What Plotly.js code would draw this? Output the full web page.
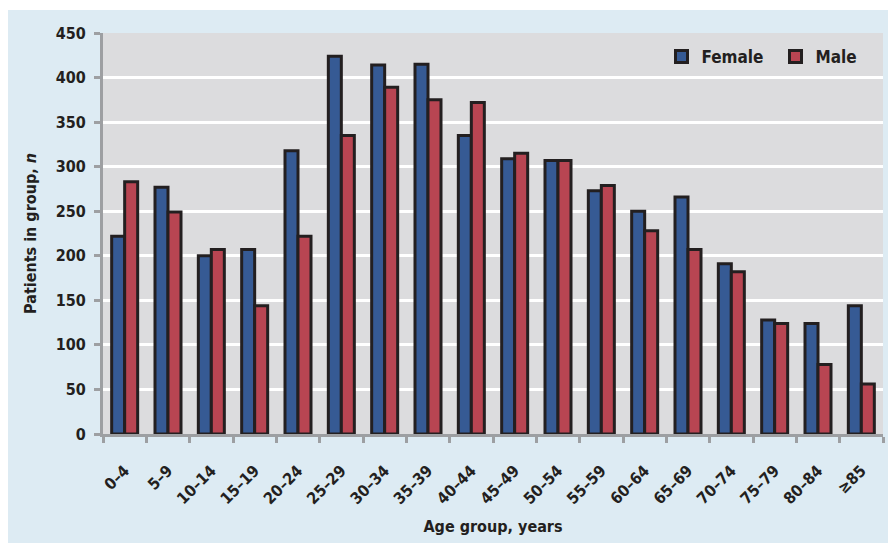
<!DOCTYPE html>
<html><head><meta charset="utf-8">
<script src="https://cdn.plot.ly/plotly-3.0.1.min.js"></script>
<style>
html,body{margin:0;padding:0;background:#ffffff;width:888px;height:543px;overflow:hidden;}
#chart{position:absolute;left:8px;top:10px;width:880px;height:533px;}
</style></head><body>
<div id="chart"></div>
<script>
var categories = ["0\u20134","5\u20139","10\u201314","15\u201319","20\u201324","25\u201329","30\u201334","35\u201339","40\u201344","45\u201349","50\u201354","55\u201359","60\u201364","65\u201369","70\u201374","75\u201379","80\u201384","\u226585"];
var female = [222,277,200,207,318,424,414,415,335,309,307,273,250,266,191,128,124,144];
var male   = [283,249,207,144,222,335,389,375,372,315,307,279,228,207,182,124,78,56];
var yTicks = [0,50,100,150,200,250,300,350,400,450];

var fontFam = "'DejaVu Sans Condensed', 'DejaVu Sans', sans-serif";
var traces = [
  {type:'bar', name:'Female', x:categories, y:female,
   marker:{color:'#365a94', line:{color:'#231f20', width:3}}},
  {type:'bar', name:'Male', x:categories, y:male,
   marker:{color:'#b84552', line:{color:'#231f20', width:3}}}
];
var layout = {
  width:880, height:533,
  margin:{l:95, r:5, t:23, b:109, autoexpand:false},
  paper_bgcolor:'#ddebf3', plot_bgcolor:'#dcdcde',
  font:{family:fontFam, color:'#231f20', size:14, weight:'bold'},
  barmode:'group', bargap:0.4, bargroupgap:0,
  showlegend:true,
  legend:{orientation:'h', x:0.716, y:0.985, xanchor:'left', yanchor:'top',
          bgcolor:'rgba(0,0,0,0)', font:{size:17, family:fontFam, weight:'bold'},
          entrywidth:69, entrywidthmode:'pixels', traceorder:'normal'},
  xaxis:{
    tickangle:-45, tickson:'boundaries', ticks:'outside', ticklen:6, tickwidth:3, tickcolor:'#9d9fa2',
    showline:true, linecolor:'#9d9fa2', linewidth:3, ticklabelstandoff:18,
    tickfont:{size:16, family:fontFam, weight:'bold'},
    title:{text:'Age group, years', font:{size:16, family:fontFam, weight:'bold'}, standoff:14},
    fixedrange:true
  },
  yaxis:{
    range:[0,450], tickvals:yTicks, ticktext:yTicks.map(String),
    ticks:'outside', ticklen:6, tickwidth:3, tickcolor:'#9d9fa2',
    showline:true, linecolor:'#9d9fa2', linewidth:3, ticklabelstandoff:5,
    showgrid:true, gridcolor:'#ffffff', gridwidth:3, zeroline:false,
    tickfont:{size:16, family:fontFam, weight:'bold'},
    title:{text:'Patients in group, <i>n</i>', font:{size:16, family:fontFam, weight:'bold'}, standoff:16},
    fixedrange:true
  }
};
Plotly.newPlot('chart', traces, layout, {staticPlot:true, displayModeBar:false});
</script>
</body></html>
